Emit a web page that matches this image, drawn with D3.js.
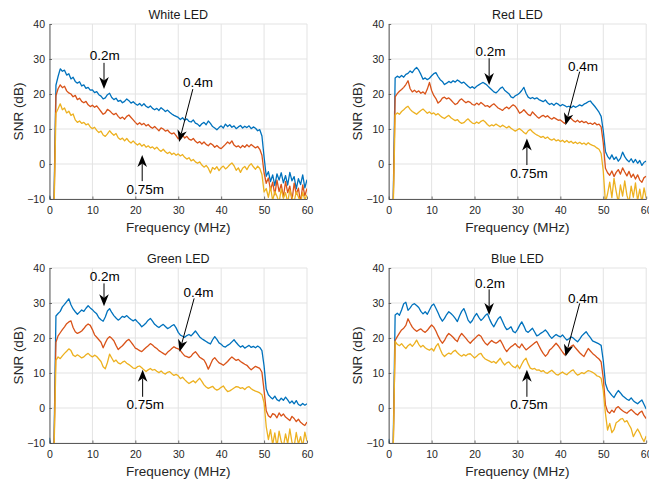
<!DOCTYPE html>
<html><head><meta charset="utf-8">
<script src="https://cdn.jsdelivr.net/npm/d3@7/dist/d3.min.js"></script>
<style>body{margin:0;background:#fff}svg{display:block}</style>
</head><body>
<svg id="chart" width="649" height="480"></svg>
<script>
// Frequency grid (MHz)
const freq = [0,0.5,1,1.5,2,2.5,3,3.5,4,4.5,5,5.5,6,6.5,7,7.5,8,8.5,9,9.5,
10,10.5,11,11.5,12,12.5,13,13.5,14,14.5,15,15.5,16,16.5,17,17.5,18,18.5,19,19.5,
20,20.5,21,21.5,22,22.5,23,23.5,24,24.5,25,25.5,26,26.5,27,27.5,28,28.5,29,29.5,
30,30.5,31,31.5,32,32.5,33,33.5,34,34.5,35,35.5,36,36.5,37,37.5,38,38.5,39,39.5,
40,40.5,41,41.5,42,42.5,43,43.5,44,44.5,45,45.5,46,46.5,47,47.5,48,48.5,49,49.5,
50,50.5,51,51.5,52,52.5,53,53.5,54,54.5,55,55.5,56,56.5,57,57.5,58,58.5,59,59.5,60];

const seriesNames = ["0.2m","0.4m","0.75m"];
const seriesColors = ["#0072BD","#D95319","#EDB120"];
const xTicks = [0,10,20,30,40,50,60];
const yTicks = [-10,0,10,20,30,40];

// ---------- White LED ----------
const white02m = [-9,-14,-14,22.5,25,27.2,26.5,26.8,25.4,25.8,
24.3,24.8,23.6,23.1,23.5,22.3,22.6,21.6,21.9,21.1,
21.2,20.4,20.7,19.8,19.4,18.6,18.9,19.8,20.2,19.0,
18.4,18.8,17.9,18.2,17.5,17.9,18.6,18.1,17.4,17.8,
17.2,16.8,17.3,16.6,17.2,16.5,16.1,16.6,15.9,15.5,
15.9,15.3,16.1,15.6,15.0,15.4,14.8,14.3,13.9,13.6,
13.3,12.7,13.2,12.5,12.9,12.2,12.0,12.6,11.7,11.4,
10.8,11.5,11.9,11.2,12.3,11.6,10.7,10.3,9.8,10.4,
10.9,10.3,11.4,10.7,11.2,10.5,10.9,10.1,10.6,11.0,
10.3,10.8,10.4,10.9,10.1,10.6,10.2,9.5,9.8,8.0,
2.0,-3.5,-2.2,-5.0,-3.1,-6.2,-2.8,-4.6,-2.5,-5.4,
-3.3,-6.0,-2.4,-4.8,-3.6,-7.1,-4.2,-5.9,-3.1,-6.8,
-4.5];
const white04m = [-13,-16,-16,19.5,21.5,22.6,21.8,22.2,20.9,20.3,
20.0,19.2,19.6,18.4,18.8,17.9,17.5,17.9,16.9,16.4,
16.8,16.2,16.6,15.8,15.0,14.2,14.6,15.6,15.2,14.6,
14.1,14.5,13.6,13.0,13.4,12.8,13.6,14.0,13.3,12.6,
11.9,11.3,11.8,11.2,11.6,10.9,11.3,10.6,10.2,10.7,
10.1,9.5,10.3,10.0,9.4,9.7,9.0,8.6,8.9,8.1,
7.2,7.8,8.3,7.4,7.9,7.1,6.8,7.3,6.5,6.0,
6.4,5.7,6.3,5.6,5.2,5.9,5.5,4.8,5.3,4.7,
4.4,5.0,5.6,6.3,5.8,6.6,5.4,4.9,5.2,4.6,
5.3,4.8,5.5,4.9,5.6,5.1,4.6,5.0,4.2,2.5,
-2.5,-5.5,-4.0,-7.5,-5.2,-8.8,-4.6,-7.9,-5.8,-9.5,
-5.0,-8.2,-6.3,-10.5,-5.5,-8.6,-6.9,-11,-6.0,-9.1,
-7.0];
const white075m = [-16,-17,-17,14.5,15.8,17.2,15.5,16.0,14.6,15.1,
13.9,14.3,12.6,11.9,12.3,11.6,11.9,11.2,11.5,10.6,
10.1,10.5,9.6,9.0,9.4,8.3,7.9,8.6,9.5,8.8,
8.2,8.7,7.5,7.0,7.4,6.6,7.3,6.5,6.0,6.6,
5.9,5.4,5.9,5.1,5.6,4.8,5.2,4.6,4.9,4.3,
4.8,4.1,3.6,4.2,3.5,3.0,3.4,2.7,3.1,2.5,
2.9,2.3,2.7,1.9,1.4,1.8,0.9,1.3,0.6,0.2,
0.6,-0.3,-0.9,-0.4,-1.2,-2.6,-1.0,-1.5,-0.8,-1.9,
-1.1,-0.6,-1.4,-0.9,-0.2,0.3,-0.5,-1.8,-1.1,-2.4,
-1.2,-0.7,-1.6,-0.5,0.1,-0.8,-1.5,-0.6,-1.3,-3.0,
-8.0,-7.0,-9.5,-6.5,-10.5,-7.8,-9.2,-11,-7.1,-9.8,
-8.2,-11,-7.4,-9.6,-10.8,-7.9,-9.4,-11,-8.1,-10.2,
-8.8];

// ---------- Red LED ----------
const red02m = [-15,-15,-14,24.6,25.1,24.7,25.3,24.8,25.6,25.9,
26.6,26.1,27.0,27.6,26.8,25.6,24.2,24.6,24.1,24.5,
25.2,25.8,26.1,25.0,24.1,23.6,22.7,23.1,23.6,23.2,
23.8,23.4,24.0,23.6,23.1,23.4,22.8,22.2,21.7,22.1,
21.6,22.2,22.6,23.0,23.3,22.9,22.4,21.8,21.2,20.6,
20.3,20.9,21.6,22.0,21.1,20.6,20.1,19.2,18.9,19.5,
19.8,20.3,21.0,21.9,20.2,19.1,18.7,19.0,18.6,18.9,
18.4,18.1,17.8,18.3,17.5,17.0,17.3,16.8,17.4,17.1,
16.6,17.0,16.7,16.3,16.5,16.1,16.6,16.2,16.5,16.9,
16.6,17.1,17.4,17.8,18.0,17.2,16.5,15.7,14.8,13.6,
9.5,3.6,2.2,1.4,2.6,1.3,2.0,0.8,1.6,3.4,
2.1,1.2,0.6,1.5,0.4,1.3,0.2,1.0,-0.4,0.5,
0.8];
const red04m = [-15,-16,-15,19.2,20.1,20.8,21.3,21.9,22.7,23.8,
21.5,20.6,21.1,20.5,20.9,20.2,20.6,20.0,21.4,23.3,
21.0,19.6,18.7,17.4,17.9,18.8,19.1,18.6,18.9,18.3,
17.6,17.0,17.3,18.2,18.6,18.0,17.5,17.9,17.6,17.0,
16.8,17.4,16.9,17.6,17.1,16.5,16.7,16.2,16.8,17.2,
16.6,16.0,15.7,15.3,15.9,16.3,15.8,16.4,16.9,16.5,
15.6,14.5,14.9,15.5,14.8,14.1,13.8,14.9,14.2,13.6,
13.1,13.6,13.9,13.4,13.8,13.2,12.8,13.3,12.9,12.5,
12.6,12.1,11.6,12.4,13.3,13.0,12.4,12.0,12.5,11.9,
12.3,11.8,12.1,11.5,11.7,11.3,11.8,11.2,11.4,10.6,
6.0,-1.2,-2.5,-3.2,-2.0,-3.6,-2.4,-1.6,-2.9,-1.1,
-2.3,-3.4,-2.1,-3.8,-2.9,-4.3,-3.1,-4.6,-5.2,-3.9,
-3.5];
const red075m = [-16,-17,-16,14.0,14.6,14.2,15.0,15.5,16.1,16.5,
15.6,15.0,14.6,14.2,14.8,15.3,15.7,15.1,14.5,14.9,
14.3,14.6,14.0,14.4,13.8,13.3,13.0,13.5,13.9,13.2,
12.8,12.4,12.7,12.0,11.6,11.8,12.4,12.9,12.2,11.7,
11.5,12.0,11.6,12.2,12.5,12.0,11.3,10.8,11.2,10.9,
11.4,11.0,10.6,11.1,10.7,10.3,10.8,10.2,9.8,9.4,
9.8,10.1,9.6,9.0,8.6,9.5,9.9,9.2,8.7,8.3,
8.0,7.6,7.9,7.3,7.7,7.1,6.8,7.2,6.6,6.9,
6.4,6.8,6.2,6.7,6.1,6.5,5.9,6.3,5.8,6.2,
5.7,6.0,5.5,6.1,5.6,5.3,5.1,4.6,4.2,3.0,
-2.0,-11,-8.5,-5.2,-9.6,-4.1,-7.8,-11,-6.0,-9.2,
-4.8,-8.9,-11,-6.3,-9.5,-5.4,-10.5,-7.2,-11,-6.8,
-9.8];

// ---------- Green LED ----------
const green02m = [-8.5,-14,-14,26.3,27.0,27.6,28.9,29.6,30.4,31.2,
29.5,28.3,27.5,26.8,27.4,28.0,27.6,28.5,29.2,28.6,
28.1,27.4,26.9,25.8,25.2,24.8,26.0,27.7,28.4,27.3,
26.4,25.7,25.1,25.6,26.2,25.9,26.4,25.8,25.3,24.9,
25.3,24.6,24.0,23.2,23.7,24.3,25.1,25.6,24.8,23.9,
23.4,23.0,23.5,23.9,23.3,22.7,23.0,23.5,23.8,22.9,
21.6,20.8,20.5,20.2,20.7,21.0,20.6,21.3,22.0,21.2,
20.3,19.8,19.4,19.0,18.6,18.3,19.5,20.4,19.6,18.6,
18.2,17.6,17.4,17.9,18.3,18.9,19.5,18.7,18.0,17.4,
17.8,17.1,17.5,17.9,17.3,17.6,17.2,17.7,17.3,16.4,
12.0,5.4,3.8,3.1,2.6,3.4,2.4,2.0,2.8,2.2,
3.1,2.3,1.4,2.0,1.2,2.1,1.0,0.7,1.3,0.8,
1.2];
const green04m = [-14,-16,-15,18.8,20.6,21.5,22.4,23.2,24.1,24.6,
24.9,23.0,21.8,21.3,21.6,22.0,22.7,23.5,24.0,23.6,
22.4,20.9,20.2,19.5,18.8,17.2,18.6,19.8,20.4,19.9,
19.2,17.9,16.7,17.3,17.8,18.5,19.2,19.6,18.8,18.0,
17.1,16.8,16.4,16.1,16.7,17.3,17.8,18.4,18.0,17.4,
17.0,16.4,16.0,15.6,15.2,15.9,16.4,17.0,17.5,17.1,
16.9,16.4,15.6,14.9,14.7,14.4,14.8,15.6,16.1,15.3,
14.5,14.1,13.7,12.6,11.1,12.4,13.8,14.4,13.6,12.9,
12.6,12.2,12.7,13.3,14.0,14.6,14.1,13.6,13.9,13.3,
12.9,12.5,12.2,11.5,10.9,11.4,11.9,11.6,11.3,10.2,
5.0,-0.8,-2.2,-2.7,-1.6,-1.9,-2.8,-1.4,-2.3,-1.7,
-2.6,-3.1,-3.6,-2.4,-3.0,-3.9,-3.2,-4.1,-4.6,-5.0,
-4.0];
const green075m = [-15,-17,-16,13.6,14.6,14.1,14.9,15.6,16.2,16.9,
16.4,15.1,14.7,15.2,14.8,14.3,14.6,15.2,15.6,15.0,
14.6,15.1,14.7,14.0,13.3,11.8,11.2,13.0,15.4,14.3,
13.2,13.7,12.9,12.6,13.1,13.4,12.8,12.4,11.9,11.4,
11.3,11.8,12.0,11.5,10.9,10.4,10.9,11.3,10.8,11.0,
10.5,10.1,10.6,10.0,9.7,10.2,10.4,9.8,9.3,9.6,
9.2,8.4,8.8,8.1,7.5,7.0,7.4,7.8,7.2,7.9,
8.5,7.6,6.6,6.0,5.6,5.9,6.2,5.5,5.1,5.4,
5.9,6.3,5.4,4.7,4.9,5.3,5.7,6.1,6.0,5.6,
5.8,5.3,5.9,6.1,5.5,5.1,4.8,4.6,4.3,3.8,
1.5,-5.3,-9.0,-6.2,-10.5,-7.1,-11,-6.6,-9.6,-11,
-7.4,-10.2,-6.0,-9.8,-11,-7.0,-10.4,-8.2,-11,-6.9,
-9.5];

// ---------- Blue LED ----------
const blue02m = [-8.8,-14,-14,26.6,27.1,26.5,28.0,29.8,30.2,27.9,
28.6,29.5,29.8,29.3,28.7,27.6,26.9,27.5,26.8,28.0,
29.2,29.7,28.5,27.2,25.8,24.8,25.6,26.7,27.5,27.0,
26.4,25.6,24.7,26.3,27.6,28.4,26.9,25.1,24.3,25.0,
26.2,27.0,25.9,25.0,25.6,26.4,26.9,25.4,24.1,23.2,
24.4,25.5,26.1,24.8,23.4,22.4,22.7,23.2,21.9,21.5,
22.4,23.6,24.6,23.4,22.0,21.6,22.2,22.8,21.7,20.6,
20.9,21.4,21.8,22.3,21.6,20.6,19.9,20.5,21.0,20.6,
20.3,20.9,20.1,19.4,19.8,20.3,20.0,19.4,18.9,19.7,
20.6,21.2,21.8,20.9,20.1,19.2,18.9,18.6,18.3,17.9,
13.5,7.0,5.2,4.4,3.6,3.0,4.1,5.0,4.3,3.5,
3.0,2.5,2.2,2.9,2.1,1.6,1.2,1.8,2.3,1.0,
-0.3];
const blue04m = [-14,-16,-15,19.3,20.4,21.4,22.3,22.8,23.6,25.5,
24.2,23.1,22.4,21.9,22.3,22.6,22.0,21.6,22.2,23.0,
23.7,23.1,22.0,20.6,19.4,18.5,19.3,20.5,21.3,20.8,
20.2,19.5,19.0,20.4,21.3,20.6,19.9,19.1,18.5,19.2,
19.8,20.4,20.9,20.5,19.4,18.5,18.0,18.7,19.3,18.8,
18.5,18.9,19.4,18.3,17.0,16.1,16.9,17.5,17.9,18.4,
17.6,17.2,18.3,17.4,16.6,17.1,17.6,18.1,18.6,19.0,
17.8,16.6,15.6,14.8,15.4,16.6,17.1,17.8,18.5,17.8,
16.9,16.0,15.2,16.2,17.0,17.6,18.0,17.2,16.5,15.8,
15.2,14.7,15.9,17.0,16.3,15.6,15.1,14.5,14.0,13.2,
8.5,0.9,-1.0,-1.5,-0.6,-1.2,0.0,0.4,-0.3,-0.8,
-1.2,-1.5,-0.9,-0.4,-1.0,-1.6,-2.0,-1.3,-0.9,-2.2,
-3.0];
const blue075m = [-15,-17,-16,19.0,18.2,17.8,18.4,17.6,17.0,17.8,
18.3,17.6,18.4,19.4,18.2,17.4,17.9,17.2,16.8,16.5,
17.0,16.3,17.6,18.4,16.8,15.4,14.7,15.3,15.7,15.4,
16.1,16.5,15.8,15.2,14.8,15.3,14.9,15.4,15.5,14.9,
14.3,14.8,15.4,15.6,14.6,14.0,13.7,13.4,13.0,13.3,
12.8,13.5,14.2,13.1,12.3,12.9,13.2,12.4,11.8,11.5,
12.3,11.2,12.5,13.6,14.2,12.6,11.4,11.1,11.3,10.8,
10.9,10.4,10.7,10.1,9.9,10.4,10.8,10.2,9.6,9.4,
9.9,10.3,9.8,9.5,10.1,10.6,10.9,10.0,9.4,9.7,
10.1,9.8,10.3,10.7,10.5,10.2,9.8,9.2,9.0,8.5,
5.0,-1.5,-6.3,-4.4,-7.0,-6.2,-4.2,-3.8,-3.2,-3.0,
-4.0,-3.6,-4.8,-5.9,-8.2,-7.0,-6.0,-7.1,-8.5,-9.6,
-8.0];

// Annotation anchors in data units (MHz, dB): text centre, arrow tail, arrow tip
const whiteNotes = [
  {label:"0.2m",  tx:12.9, ty:31.1, x1:12.7, y1:28.9, x2:12.7, y2:21.4},
  {label:"0.4m",  tx:34.6, ty:23.4, x1:33.4, y1:21.4, x2:30.2, y2:6.3},
  {label:"0.75m", tx:22.3, ty:-7.4, x1:21.6, y1:-4.9, x2:21.6, y2:2.6}];
const redNotes = [
  {label:"0.2m",  tx:23.7, ty:32.1, x1:23.4, y1:30.2, x2:23.4, y2:22.6},
  {label:"0.4m",  tx:45.3, ty:27.8, x1:44.5, y1:26.4, x2:41.2, y2:11.1},
  {label:"0.75m", tx:32.7, ty:-2.7, x1:32.2, y1:-0.3, x2:32.2, y2:7.3}];
const greenNotes = [
  {label:"0.2m",  tx:12.9, ty:37.5, x1:12.7, y1:35.6, x2:12.7, y2:29.1},
  {label:"0.4m",  tx:34.7, ty:32.9, x1:33.7, y1:31.3, x2:30.3, y2:16.1},
  {label:"0.75m", tx:22.3, ty:0.9,  x1:21.7, y1:3.2,  x2:21.7, y2:10.9}];
const blueNotes = [
  {label:"0.2m",  tx:23.6, ty:35.6, x1:23.4, y1:33.9, x2:23.4, y2:26.6},
  {label:"0.4m",  tx:45.3, ty:31.3, x1:44.5, y1:29.9, x2:41.2, y2:14.7},
  {label:"0.75m", tx:32.7, ty:0.9,  x1:32.2, y1:3.2,  x2:32.2, y2:10.9}];

const panels = [
  {title:"White LED", series:[white02m, white04m, white075m], notes:whiteNotes, left:49.5, top:24},
  {title:"Red LED",   series:[red02m, red04m, red075m],       notes:redNotes,   left:388.7, top:24},
  {title:"Green LED", series:[green02m, green04m, green075m], notes:greenNotes, left:49.5, top:268},
  {title:"Blue LED",  series:[blue02m, blue04m, blue075m],    notes:blueNotes,  left:388.7, top:268}
];
const PW = 257.5, PH = 175;
const FONT = "'Liberation Sans', Arial, Helvetica, sans-serif";
const svg = d3.select("#chart");

panels.forEach((p, pi) => {
  const g = svg.append("g").attr("transform", `translate(${p.left},${p.top})`);
  const x = d3.scaleLinear().domain([0, 60]).range([0, PW]);
  const y = d3.scaleLinear().domain([-10, 40]).range([PH, 0]);

  // grid
  g.append("g").selectAll("line").data(xTicks).join("line")
    .attr("x1", d => x(d)).attr("x2", d => x(d)).attr("y1", 0).attr("y2", PH)
    .attr("stroke", "#e3e3e3").attr("stroke-width", 1);
  g.append("g").selectAll("line").data(yTicks).join("line")
    .attr("x1", 0).attr("x2", PW).attr("y1", d => y(d)).attr("y2", d => y(d))
    .attr("stroke", "#e3e3e3").attr("stroke-width", 1);

  // lines
  const clipId = "clip" + pi;
  g.append("clipPath").attr("id", clipId).append("rect")
    .attr("x", 0).attr("y", 0).attr("width", PW).attr("height", PH);
  const line = d3.line().x((d, i) => x(freq[i])).y(d => y(d));
  const lg = g.append("g").attr("clip-path", `url(#${clipId})`);
  p.series.forEach((s, si) => {
    lg.append("path").datum(s).attr("d", line)
      .attr("fill", "none").attr("stroke", seriesColors[si])
      .attr("stroke-width", 1.3).attr("stroke-linejoin", "round");
  });

  // axes
  const ax = g.append("g").attr("transform", `translate(0,${PH})`)
    .call(d3.axisBottom(x).tickValues(xTicks).tickSizeInner(-2.5).tickSizeOuter(0).tickPadding(7.5));
  const ay = g.append("g")
    .call(d3.axisLeft(y).tickValues(yTicks).tickSizeInner(-2.5).tickSizeOuter(0).tickPadding(4.5));
  [ax, ay].forEach(a => {
    a.select(".domain").attr("stroke", "#4a4a4a").attr("stroke-width", 0.9);
    a.selectAll(".tick line").attr("stroke", "#4a4a4a").attr("stroke-width", 0.8);
    a.selectAll("text").attr("fill", "#262626").style("font-family", FONT).style("font-size", "10.5px");
  });

  // labels
  g.append("text").attr("x", PW / 2).attr("y", -5).attr("text-anchor", "middle")
    .style("font-family", FONT).style("font-size", "12.5px").attr("fill", "#1a1a1a").text(p.title);
  g.append("text").attr("x", PW / 2).attr("y", PH + 32.5).attr("text-anchor", "middle")
    .style("font-family", FONT).style("font-size", "13.5px").attr("fill", "#262626").text("Frequency (MHz)");
  g.append("text").attr("transform", `translate(-31,${PH / 2}) rotate(-90)`)
    .attr("text-anchor", "middle").attr("dominant-baseline", "central")
    .style("font-family", FONT).style("font-size", "13.5px").attr("fill", "#262626").text("SNR (dB)");

  // annotations
  p.notes.forEach(n => {
    const sx = x(n.x1), sy = y(n.y1), tx = x(n.x2), ty = y(n.y2);
    const dx = tx - sx, dy = ty - sy, len = Math.hypot(dx, dy);
    const ux = dx / len, uy = dy / len, nx = -uy, ny = ux;
    const L = 12, W = 4.8, notch = 3.5;
    g.append("line").attr("x1", sx).attr("y1", sy)
      .attr("x2", tx - (L - notch) * ux).attr("y2", ty - (L - notch) * uy)
      .attr("stroke", "#000").attr("stroke-width", 1);
    const pts = [[tx, ty], [tx - L * ux + W * nx, ty - L * uy + W * ny],
      [tx - (L - notch) * ux, ty - (L - notch) * uy], [tx - L * ux - W * nx, ty - L * uy - W * ny]];
    g.append("path").attr("d", "M" + pts.map(q => q.join(",")).join("L") + "Z").attr("fill", "#000");
    g.append("text").attr("x", x(n.tx)).attr("y", y(n.ty)).attr("text-anchor", "middle")
      .attr("dominant-baseline", "central").style("font-family", FONT).style("font-size", "13.5px")
      .attr("fill", "#000").text(n.label);
  });
});
</script>
</body></html>
